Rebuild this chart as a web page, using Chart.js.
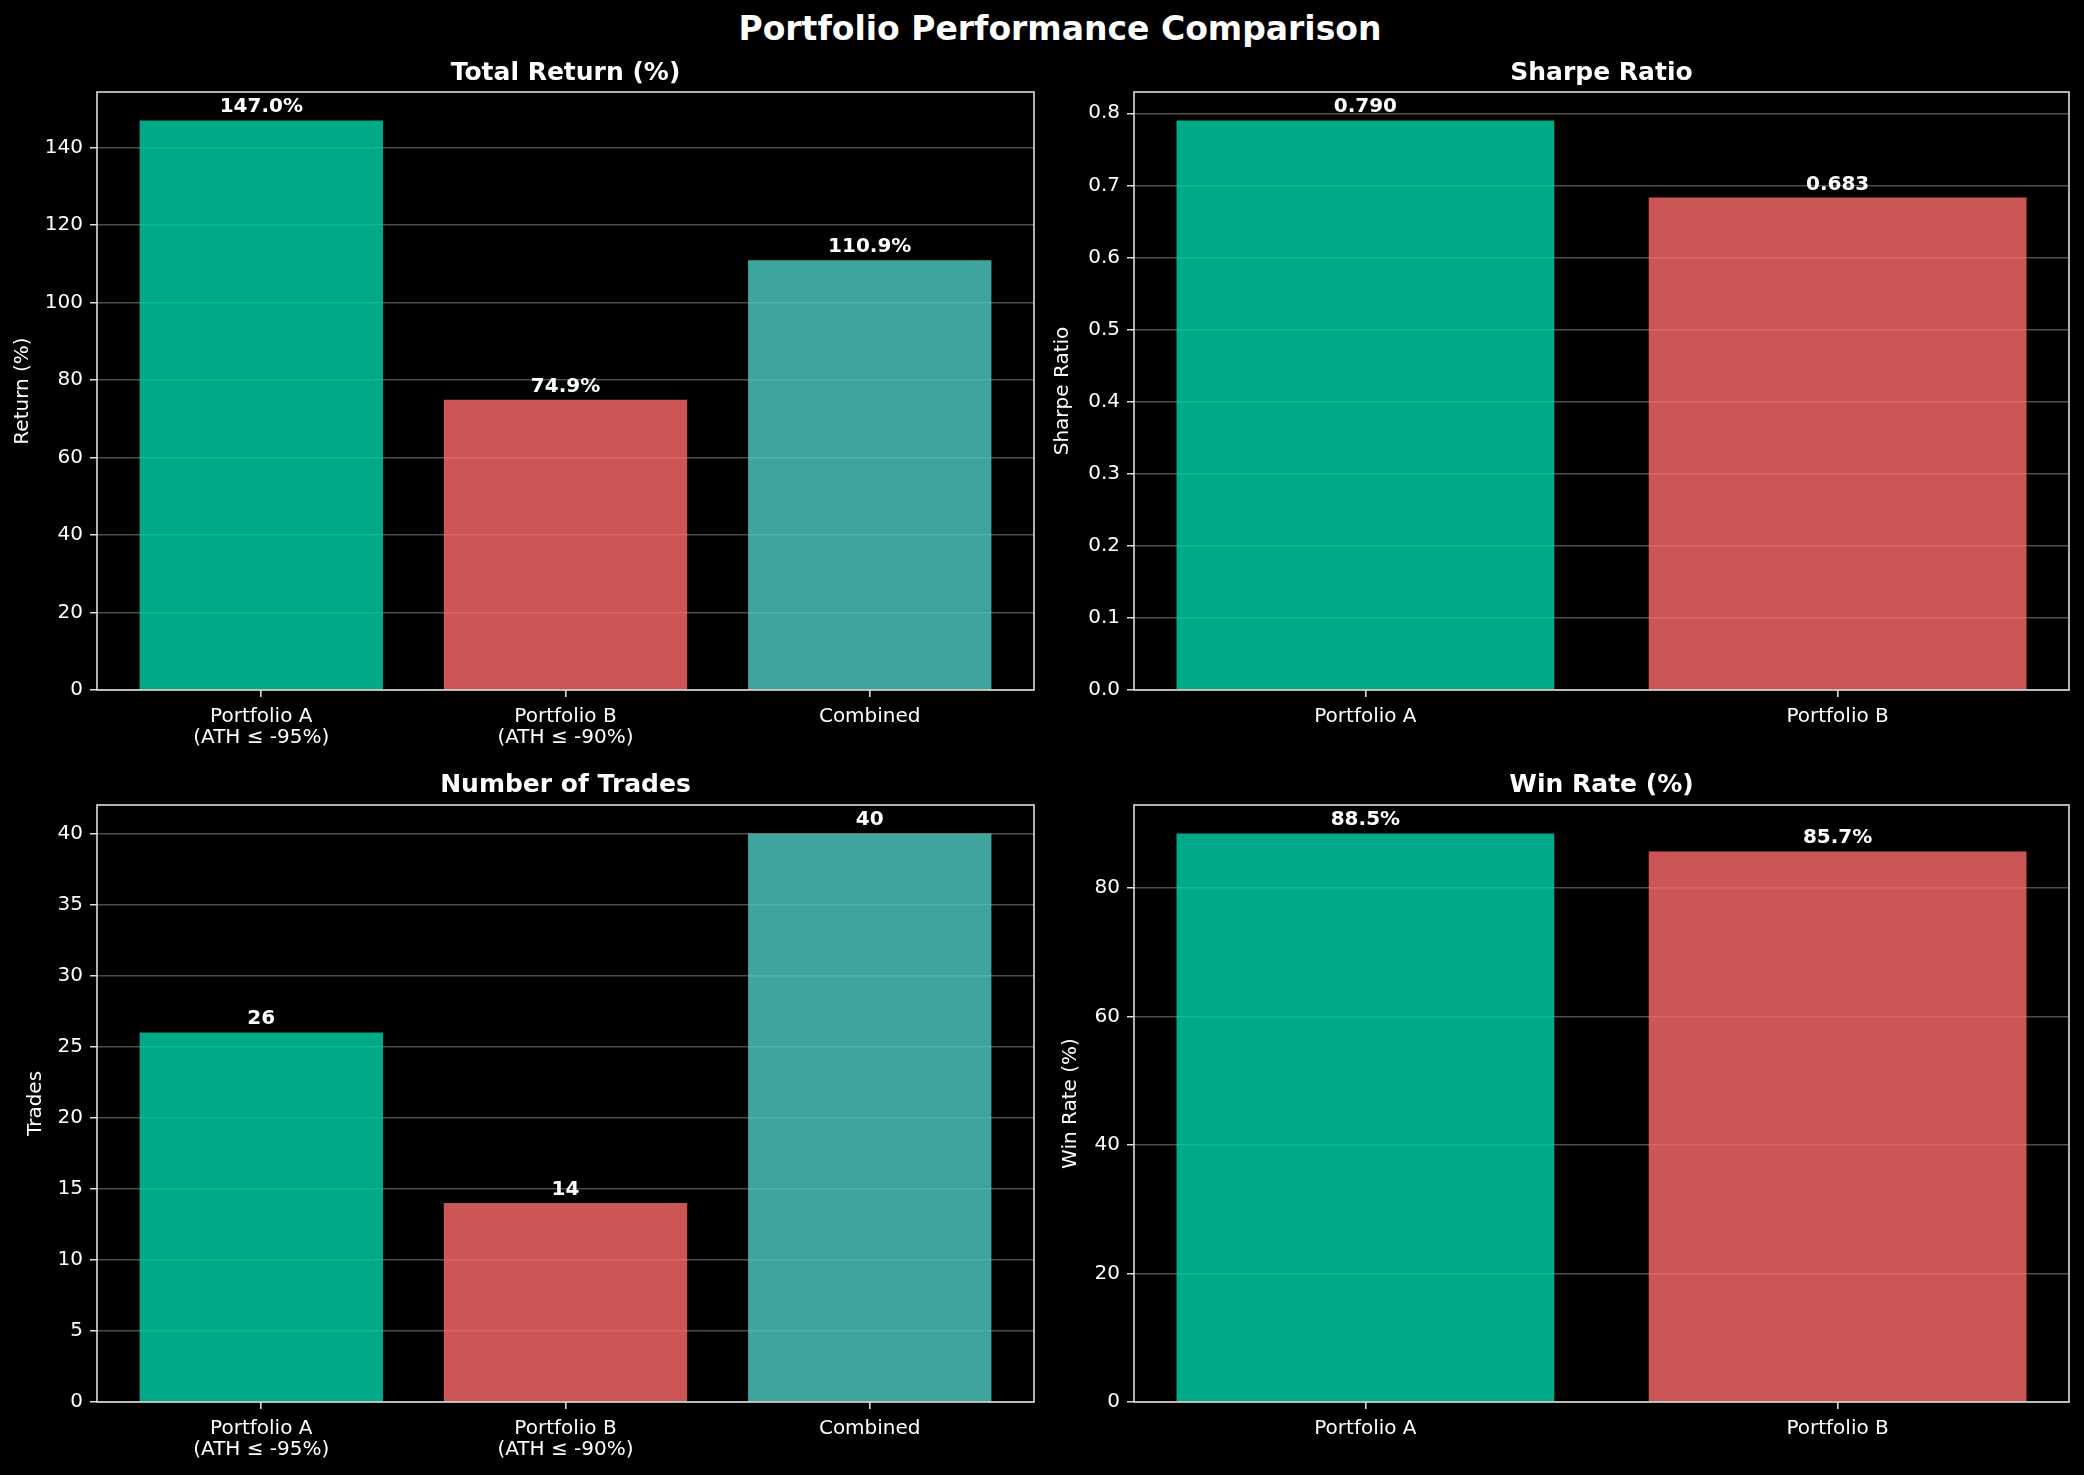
<!DOCTYPE html>
<html>
<head>
<meta charset="utf-8">
<script src="https://cdn.jsdelivr.net/npm/chart.js@4.4.1/dist/chart.umd.min.js"></script>
<style>
  body { margin: 0; background: #000; width: 2084px; height: 1475px; overflow: hidden; position: relative; }
  .panel { position: absolute; }
  #mainTitle {
    position: absolute; top: 9px; left: 1060px; transform: translateX(-50%);
    color: #fff; font: bold 33px 'DejaVu Sans'; line-height: 40px; white-space: nowrap;
  }
</style>
</head>
<body>
<div id="mainTitle">Portfolio Performance Comparison</div>
<div class="panel" style="left:0;top:40px;width:1050px;height:720px"><canvas id="returnChart"></canvas></div>
<div class="panel" style="left:1050px;top:40px;width:1034px;height:720px"><canvas id="sharpeChart"></canvas></div>
<div class="panel" style="left:0;top:760px;width:1050px;height:715px"><canvas id="tradesChart"></canvas></div>
<div class="panel" style="left:1050px;top:760px;width:1034px;height:715px"><canvas id="winRateChart"></canvas></div>
<script>
// values
const portfolioLabels = [['Portfolio A', '(ATH ≤ -95%)'], ['Portfolio B', '(ATH ≤ -90%)'], 'Combined'];
const pairLabels = ['Portfolio A', 'Portfolio B'];
const totalReturn = [147.0, 74.9, 110.9];
const sharpeRatio = [0.790, 0.683];
const tradeCounts = [26, 14, 40];
const winRate = [88.5, 85.7];

const GREEN = 'rgba(0, 212, 170, 0.8)';
const RED = 'rgba(255, 107, 107, 0.8)';
const CYAN = 'rgba(78, 205, 196, 0.8)';
const EDGE = '#dddddd';

Chart.defaults.font.family = 'DejaVu Sans';
Chart.defaults.color = '#ffffff';

// matplotlib-style closed frame around the plot area
const framePlugin = {
  id: 'frame',
  afterDraw(chart) {
    const { ctx, chartArea: a } = chart;
    ctx.save();
    ctx.strokeStyle = EDGE;
    ctx.lineWidth = 1.6;
    ctx.strokeRect(a.left, a.top, a.right - a.left, a.bottom - a.top);
    ctx.restore();
  },
};

function valueLabels(fmt) {
  return {
    id: 'valueLabels',
    afterDatasetsDraw(chart) {
      const { ctx } = chart;
      const meta = chart.getDatasetMeta(0);
      const data = chart.data.datasets[0].data;
      ctx.save();
      ctx.fillStyle = '#ffffff';
      ctx.font = 'bold 20px "DejaVu Sans"';
      ctx.textAlign = 'center';
      ctx.textBaseline = 'alphabetic';
      meta.data.forEach((bar, i) => {
        ctx.fillText(fmt(data[i].y), bar.x, bar.y - 8);
      });
      ctx.restore();
    },
  };
}

function renderBarPanel(id, cfg) {
  const n = cfg.values.length;
  const pad = (n - 1 + 0.8) * 0.05;
  return new Chart(document.getElementById(id), {
    type: 'bar',
    data: {
      datasets: [{
        data: cfg.values.map((v, i) => ({ x: i, y: v })),
        backgroundColor: cfg.colors,
        borderWidth: 0,
        categoryPercentage: 1,
        barPercentage: 0.8,
      }],
    },
    options: {
      responsive: true,
      maintainAspectRatio: false,
      animation: false,
      layout: { padding: { left: 0, right: cfg.padRight, top: 0, bottom: 0 } },
      plugins: {
        legend: { display: false },
        tooltip: { enabled: false },
        title: {
          display: true,
          text: cfg.title,
          fullSize: false,
          color: '#ffffff',
          font: { size: 25, weight: 'bold', lineHeight: 1.2 },
          padding: cfg.titlePad,
        },
      },
      scales: {
        x: {
          type: 'linear',
          offset: false,
          min: -0.4 - pad,
          max: n - 1 + 0.4 + pad,
          afterBuildTicks: (axis) => { axis.ticks = cfg.labels.map((_, i) => ({ value: i })); },
          afterFit: (axis) => { axis.height = cfg.xAxisHeight; },
          border: { display: false },
          grid: { display: true, offset: false, drawOnChartArea: false, drawTicks: true, tickLength: 7, tickColor: EDGE, lineWidth: 1.6 },
          ticks: {
            color: '#ffffff',
            font: { size: 20, lineHeight: 1.05 },
            padding: 9,
            maxRotation: 0,
            autoSkip: false,
            callback: (v) => cfg.labels[v],
          },
        },
        y: {
          min: 0,
          max: cfg.yMax,
          z: 1,
          afterFit: (axis) => { axis.width = cfg.yAxisWidth; },
          border: { display: false },
          grid: { color: 'rgba(255,255,255,0.3)', lineWidth: 1.5, drawTicks: true, tickLength: 7, tickColor: EDGE },
          ticks: {
            stepSize: cfg.yStep,
            includeBounds: false,
            color: '#ffffff',
            font: { size: 20 },
            padding: 7,
            callback: cfg.tickFmt,
          },
          title: {
            display: true,
            text: cfg.yLabel,
            color: '#ffffff',
            font: { size: 20, lineHeight: 1.2 },
            padding: { top: cfg.yTitlePad, bottom: 0 },
          },
        },
      },
    },
    plugins: [framePlugin, valueLabels(cfg.valueFmt)],
  });
}

renderBarPanel('returnChart', {
  labels: portfolioLabels, values: totalReturn, colors: [GREEN, RED, CYAN],
  title: 'Total Return (%)', yLabel: 'Return (%)',
  yMax: Math.max(...totalReturn) * 1.05, yStep: 20, tickFmt: (v) => v.toFixed(0),
  valueFmt: (v) => v.toFixed(1) + '%',
  yAxisWidth: 97, xAxisHeight: 70, padRight: 16, yTitlePad: 11,
  titlePad: { top: 18, bottom: 4 },
});

renderBarPanel('sharpeChart', {
  labels: pairLabels, values: sharpeRatio, colors: [GREEN, RED],
  title: 'Sharpe Ratio', yLabel: 'Sharpe Ratio',
  yMax: Math.max(...sharpeRatio) * 1.05, yStep: 0.1, tickFmt: (v) => v.toFixed(1),
  valueFmt: (v) => v.toFixed(3),
  yAxisWidth: 84, xAxisHeight: 70, padRight: 15, yTitlePad: 1,
  titlePad: { top: 18, bottom: 4 },
});

renderBarPanel('tradesChart', {
  labels: portfolioLabels, values: tradeCounts, colors: [GREEN, RED, CYAN],
  title: 'Number of Trades', yLabel: 'Trades',
  yMax: Math.max(...tradeCounts) * 1.05, yStep: 5, tickFmt: (v) => v.toFixed(0),
  valueFmt: (v) => String(v),
  yAxisWidth: 97, xAxisHeight: 73, padRight: 16, yTitlePad: 24,
  titlePad: { top: 10, bottom: 5 },
});

renderBarPanel('winRateChart', {
  labels: pairLabels, values: winRate, colors: [GREEN, RED],
  title: 'Win Rate (%)', yLabel: 'Win Rate (%)',
  yMax: Math.max(...winRate) * 1.05, yStep: 20, tickFmt: (v) => v.toFixed(0),
  valueFmt: (v) => v.toFixed(1) + '%',
  yAxisWidth: 84, xAxisHeight: 73, padRight: 15, yTitlePad: 9,
  titlePad: { top: 10, bottom: 5 },
});
</script>
</body>
</html>
